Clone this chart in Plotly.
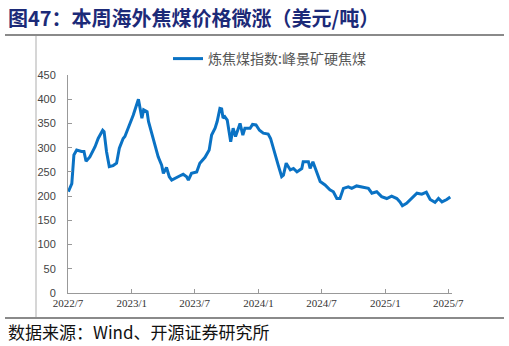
import plotly.graph_objects as go

dates = [
    "2022-07-02", "2022-07-12", "2022-07-18", "2022-07-26", "2022-08-09", "2022-08-16",
    "2022-08-22", "2022-09-02", "2022-09-17", "2022-09-26", "2022-10-09", "2022-10-13",
    "2022-10-20", "2022-10-28", "2022-11-08", "2022-11-18", "2022-11-26", "2022-12-07",
    "2022-12-12", "2022-12-21", "2023-01-05", "2023-01-20", "2023-01-30", "2023-02-04",
    "2023-02-14", "2023-02-18", "2023-02-28", "2023-03-09", "2023-03-18", "2023-03-28",
    "2023-04-02", "2023-04-11", "2023-04-19", "2023-04-26", "2023-05-05", "2023-05-20",
    "2023-05-29", "2023-06-08", "2023-06-13", "2023-06-22", "2023-07-07", "2023-07-16",
    "2023-07-31", "2023-08-12", "2023-08-19", "2023-08-29", "2023-09-04", "2023-09-12",
    "2023-09-17", "2023-09-21", "2023-09-26", "2023-10-03", "2023-10-13", "2023-10-20",
    "2023-10-27", "2023-11-09", "2023-11-17", "2023-11-23", "2023-12-08", "2023-12-15",
    "2023-12-25", "2024-01-04", "2024-01-15", "2024-01-29", "2024-02-05", "2024-02-12",
    "2024-02-17", "2024-02-27", "2024-03-08", "2024-03-13", "2024-03-21", "2024-04-02",
    "2024-04-11", "2024-04-21", "2024-05-05", "2024-05-09", "2024-05-24", "2024-05-29",
    "2024-06-06", "2024-06-17", "2024-06-27", "2024-07-11", "2024-07-25", "2024-08-04",
    "2024-08-14", "2024-08-23", "2024-09-02", "2024-09-16", "2024-09-26", "2024-10-10",
    "2024-10-29", "2024-11-13", "2024-11-23", "2024-12-07", "2024-12-21", "2025-01-05",
    "2025-01-19", "2025-02-03", "2025-02-12", "2025-02-19", "2025-03-03", "2025-03-18",
    "2025-04-02", "2025-04-16", "2025-04-29", "2025-05-10", "2025-05-24", "2025-06-03",
    "2025-06-13", "2025-06-27", "2025-07-07",
]
values = [
    209, 226, 285, 295, 292, 292,
    272, 281, 302, 319, 336, 333,
    292, 261, 263, 268, 299, 319,
    323, 340, 367, 400, 361, 378,
    374, 354, 326, 302, 281, 264,
    247, 259, 240, 233, 237, 242,
    245, 240, 233, 247, 250, 268,
    280, 295, 326, 340, 354, 381,
    380, 361, 364, 357, 312, 340,
    323, 350, 326, 340, 340, 348,
    347, 336, 330, 328, 319, 300,
    288, 264, 240, 243, 268, 254,
    257, 250, 257, 271, 271, 257,
    271, 247, 230, 223, 213, 209,
    195, 195, 216, 219, 216, 221,
    218, 216, 206, 209, 199, 195,
    200, 195, 188, 180, 185, 195,
    206, 204, 208, 193, 187, 195,
    188, 193, 198,
]
series_name = "炼焦煤指数:峰景矿硬焦煤"
x_tick_vals = ["2022-07-01", "2023-01-01", "2023-07-01", "2024-01-01",
               "2024-07-01", "2025-01-01", "2025-07-01"]
x_tick_text = ["2022/7", "2023/1", "2023/7", "2024/1", "2024/7", "2025/1", "2025/7"]
y_tick_vals = [0, 50, 100, 150, 200, 250, 300, 350, 400, 450]

title_text = "图47：本周海外焦煤价格微涨（美元/吨）"
source_text = "数据来源：Wind、开源证券研究所"

W, H = 509, 346
L, R, T, B = 68, 452, 75, 293

fig = go.Figure()
fig.add_trace(go.Scatter(
    x=dates, y=values, mode="lines", name=series_name,
    line=dict(color="#0a72c4", width=3),
))

fig.update_layout(
    width=W, height=H,
    margin=dict(l=L, r=W - R, t=T, b=H - B, pad=0),
    paper_bgcolor="white", plot_bgcolor="white",
    showlegend=True,
    legend=dict(
        x=(168 - L) / (R - L), y=(B - 43) / (B - T),
        xanchor="left", yanchor="top",
        font=dict(family="Noto Sans CJK SC", size=14, color="#555555"),
        bgcolor="rgba(0,0,0,0)", borderwidth=0,
    ),
    xaxis=dict(
        type="date",
        range=["2022-07-01", "2025-07-12"],
        tickvals=x_tick_vals, ticktext=x_tick_text,
        ticks="inside", ticklen=4, tickcolor="#999999",
        showline=True, linecolor="#999999", linewidth=1,
        showgrid=False, zeroline=False,
        tickfont=dict(family="Liberation Serif", size=11, color="#333333"),
    ),
    yaxis=dict(
        range=[0, 450],
        tickvals=y_tick_vals,
        ticks="inside", ticklen=4, tickcolor="#999999",
        showline=True, linecolor="#999999", linewidth=1,
        showgrid=False, zeroline=False,
        ticklabelstandoff=9,
        tickfont=dict(family="Liberation Sans", size=11, color="#444444"),
    ),
)

fig.add_annotation(
    text="<b>" + title_text + "</b>", xref="paper", yref="paper",
    x=(6 - L) / (R - L), y=(B - 17) / (B - T), xanchor="left", yanchor="middle",
    showarrow=False,
    font=dict(family="Noto Sans CJK SC", size=20, color="#1c2a78"),
)
fig.add_annotation(
    text=source_text, xref="paper", yref="paper",
    x=(6 - L) / (R - L), y=(B - 331) / (B - T), xanchor="left", yanchor="middle",
    showarrow=False,
    font=dict(family="Noto Sans CJK SC", size=17, color="#111111"),
)

def px_x(px):
    return (px - L) / (R - L)

def px_y(py):
    return (B - py) / (B - T)

fig.add_shape(type="line", xref="paper", yref="paper",
              x0=px_x(5), x1=px_x(504), y0=px_y(35), y1=px_y(35),
              line=dict(color="#8a8a8a", width=2))
fig.add_shape(type="line", xref="paper", yref="paper",
              x0=px_x(5), x1=px_x(504), y0=px_y(318), y1=px_y(318),
              line=dict(color="#8a8a8a", width=2))
fig.add_shape(type="line", xref="paper", yref="paper",
              x0=px_x(36), x1=px_x(36), y0=px_y(36), y1=px_y(317),
              line=dict(color="#c8c8c8", width=1.5))

fig.write_html("out.html")
